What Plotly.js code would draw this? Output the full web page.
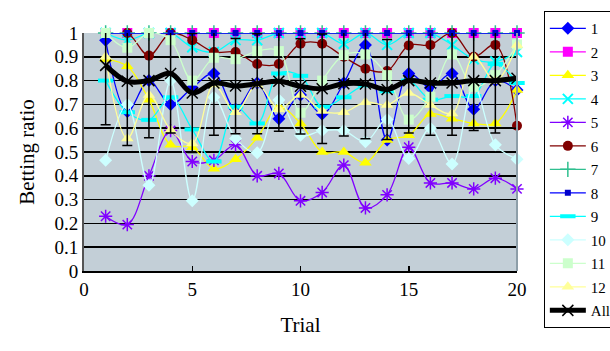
<!DOCTYPE html>
<html>
<head>
<meta charset="utf-8">
<script src="https://cdn.plot.ly/plotly-3.0.1.min.js"></script>
<style>html,body{margin:0;padding:0;background:#fff;}#chart{width:610px;height:351px;}</style>
</head>
<body>
<div id="chart"></div>
<script>
var trials = [1,2,3,4,5,6,7,8,9,10,11,12,13,14,15,16,17,18,19,20];
var names = ['1','2','3','4','5','6','7','8','9','10','11','12','All'];

var s1  = [0.97,0.67,0.80,0.70,0.77,0.83,0.68,0.79,0.64,0.74,0.66,0.79,0.95,0.55,0.83,0.77,0.83,0.68,0.80,0.76];
var s2  = [1,1,1,1,1,1,1,1,1,1,1,1,1,1,1,1,1,1,1,1];
var s3  = [0.89,0.86,0.72,0.53,0.52,0.43,0.47,0.56,0.69,0.62,0.50,0.50,0.455,0.55,0.57,0.66,0.64,0.62,0.62,0.76];
var s4  = [1,0.97,1,1,0.94,0.92,0.97,0.97,1,1,1,0.955,1,0.95,1,1,0.95,0.89,0.88,0.92];
var s5  = [0.23,0.195,0.40,0.59,0.46,0.465,0.53,0.40,0.41,0.295,0.33,0.445,0.265,0.32,0.52,0.37,0.37,0.345,0.39,0.345];
var s6  = [1,1,0.905,1,0.97,0.92,0.92,0.87,0.87,0.955,0.955,0.90,0.85,0.84,0.948,0.95,1,0.90,0.95,0.61];
var s7  = [1,1,1,1,1,1,1,1,1,1,1,1,1,1,1,1,1,1,1,1];
var s8  = [1,1,1,1,1,1,1,1,1,1,1,1,1,1,1,1,1,1,1,1];
var s9  = [0.80,0.667,0.635,0.73,0.595,0.46,0.69,0.62,0.83,0.82,0.69,0.73,0.78,0.755,0.80,0.72,0.735,0.735,0.87,0.79];
var s10 = [0.465,0.70,0.36,0.80,0.295,0.73,0.557,0.497,0.718,0.57,0.59,0.59,0.543,0.637,0.473,0.60,0.45,0.78,0.53,0.47];
var s11 = [1,0.938,1,0.97,0.80,0.896,0.89,0.924,0.924,0.665,0.80,0.907,0.91,0.823,0.636,0.732,0.91,0.774,0.823,0.952];
var s12 = [0.90,0.557,0.74,0.592,0.536,0.784,0.667,0.784,0.68,0.74,0.672,0.667,0.709,0.698,0.748,0.698,0.662,0.90,0.798,0.95];
var allMean = [0.864,0.797,0.80,0.83,0.748,0.79,0.777,0.787,0.797,0.776,0.766,0.787,0.786,0.763,0.80,0.79,0.79,0.80,0.80,0.81];
var allSD   = [0.25,0.27,0.24,0.25,0.25,0.22,0.20,0.21,0.21,0.20,0.23,0.22,0.23,0.21,0.22,0.22,0.22,0.21,0.22,0.21];

var series = [s1,s2,s3,s4,s5,s6,s7,s8,s9,s10,s11,s12];
var styles = [
  {lc:'#0000ff', sym:'diamond', sz:10, mc:'#0000ff', mlc:'#0000ff', mlw:0},
  {lc:'#ff00ff', sym:'square', sz:10, mc:'#ff00ff', mlc:'#ff00ff', mlw:0},
  {lc:'#ffff00', sym:'triangle-up', sz:11, mc:'#ffff00', mlc:'#ffff00', mlw:0},
  {lc:'#00ffff', sym:'x-thin-open', sz:10, mc:'#00ffff', mlc:'#00ffff', mlw:2},
  {lc:'#8000ff', sym:'asterisk-open', sz:11, mc:'#8000ff', mlc:'#8000ff', mlw:1.5},
  {lc:'#800000', sym:'circle', sz:10, mc:'#800000', mlc:'#800000', mlw:0},
  {lc:'#2fbf8f', sym:'cross-thin-open', sz:11, mc:'#2fbf8f', mlc:'#2fbf8f', mlw:1.5},
  {lc:'#0000ff', sym:'square', sz:6, mc:'#0000cc', mlc:'#0000cc', mlw:0},
  {lc:'#00ffff', sym:'line-ew-open', sz:11, mc:'#00ffff', mlc:'#00ffff', mlw:4},
  {lc:'#ccffff', sym:'diamond', sz:10, mc:'#ccffff', mlc:'#ccffff', mlw:0},
  {lc:'#ccffcc', sym:'square', sz:10, mc:'#ccffcc', mlc:'#ccffcc', mlw:0},
  {lc:'#ffff99', sym:'triangle-up', sz:11, mc:'#ffff99', mlc:'#ffff99', mlw:0}
];

var data = [];
for (var i = 0; i < series.length; i++) {
  var st = styles[i];
  data.push({
    x: trials, y: series[i], name: names[i], legendgroup: 'g' + i,
    type: 'scatter', mode: 'lines+markers', cliponaxis: false,
    line: {color: st.lc, width: 1.3, shape: 'spline', smoothing: 1},
    marker: {symbol: st.sym, size: st.sz, color: st.mc, line: {color: st.mlc, width: st.mlw}}
  });
}
data.push({
  x: trials, y: allMean, name: names[12], legendgroup: 'gAll',
  type: 'scatter', mode: 'lines+markers',
  line: {color: '#000000', width: 5, shape: 'spline', smoothing: 1},
  marker: {symbol: 'x-thin-open', size: 11, color: '#000', line: {color: '#000', width: 1.5}},
  error_y: {type: 'data', array: allSD, visible: true, color: '#000', thickness: 1.5, width: 5}
});

var fontFam = '"Liberation Serif", "Times New Roman", serif';
var layout = {
  width: 610, height: 351,
  margin: {l: 84, r: 93, t: 33, b: 80, autoexpand: false},
  paper_bgcolor: '#ffffff', plot_bgcolor: '#c3cfd7',
  font: {family: fontFam, color: '#000'},
  showlegend: true,
  xaxis: {
    range: [0, 20], tick0: 0, dtick: 5, ticks: 'inside', ticklen: 5, tickwidth: 1.5, tickcolor: '#000',
    showline: true, linecolor: '#000', linewidth: 2, showgrid: false, zeroline: false,
    tickfont: {family: fontFam, size: 19, color: '#000'},
    title: {text: 'Trial', font: {family: fontFam, size: 21, color: '#000'}, standoff: 19}
  },
  yaxis: {
    range: [0, 1], tick0: 0, dtick: 0.1, ticks: '', showgrid: true, gridcolor: '#000', gridwidth: 1.6,
    showline: true, linecolor: '#555', linewidth: 2, zeroline: false,
    tickfont: {family: fontFam, size: 19, color: '#000'},
    title: {text: 'Betting ratio', font: {family: fontFam, size: 21, color: '#000'}, standoff: 14}
  },
  legend: {
    x: 1.062, y: 1.092, xanchor: 'left', yanchor: 'top',
    bgcolor: '#ffffff', bordercolor: '#000', borderwidth: 1,
    font: {family: fontFam, size: 15, color: '#000'},
    tracegroupgap: 1, traceorder: 'grouped', itemwidth: 36, maxheight: 400
  },
  shapes: [
    {type: 'line', xref: 'paper', yref: 'paper', x0: 1, x1: 1, y0: 0, y1: 1, line: {color: '#8d9ea8', width: 2}}
  ]
};

Plotly.newPlot('chart', data, layout, {displayModeBar: false, staticPlot: true});
</script>
</body>
</html>
